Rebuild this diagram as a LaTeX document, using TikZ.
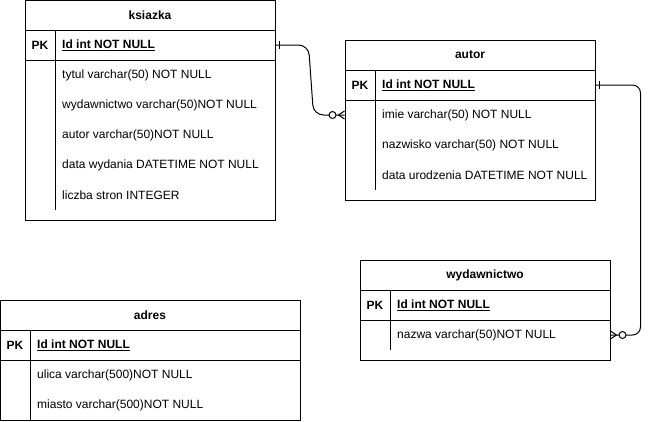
\documentclass[tikz,border=0pt]{standalone}
\usepackage{fontspec}
\setmainfont{Liberation Sans}
\tikzstyle{tbl}=[draw,line width=1pt,inner sep=0pt]
\tikzstyle{head}=[draw,line width=1pt,minimum height=30pt,inner sep=0pt,font=\bfseries]
\tikzstyle{pk}=[minimum width=30pt,minimum height=30pt,inner sep=0pt,font=\bfseries]
\tikzstyle{field}=[anchor=west,minimum height=30pt,inner sep=0pt]
\tikzstyle{key}=[field,font=\bfseries]
\tikzstyle{link}=[line width=1pt]
\tikzset{
  one/.pic={\draw[link] (4pt,-4pt) -- (4pt,4pt);},
  zeromany/.pic={
    \draw[link] (-6pt,0pt) -- (0pt,4pt) (-6pt,0pt) -- (0pt,-4pt);
    \draw[link,fill=white] (-12pt,0pt) circle (3.5pt);
  }
}

\begin{document}
\fontsize{12pt}{14pt}\selectfont
\begin{tikzpicture}[x=1pt,y=-1pt]
\fill[white] (0,0) rectangle (650,421);
\useasboundingbox (0,0) rectangle (650,421);

% ksiazka
\node[tbl,minimum width=250pt,minimum height=220pt] at (150,110) (ksiazka) {};
\node[head,minimum width=250pt] at (150,15) (ksiazkaHead) {ksiazka};
\node[pk] at (40,45) (ksiazkaPK) {PK};
\node[key] at (62,45) (ksiazkaId) {\underline{Id int NOT NULL}};
\node[field] at (62,75) (ksiazkaTytul) {tytul varchar(50) NOT NULL};
\node[field] at (62,105) (ksiazkaWyd) {wydawnictwo varchar(50)NOT NULL};
\node[field] at (62,135) (ksiazkaAutor) {autor varchar(50)NOT NULL};
\node[field] at (62,165) (ksiazkaData) {data wydania DATETIME NOT NULL};
\node[field] at (62,195) (ksiazkaLiczba) {liczba stron INTEGER};
\draw[link] (ksiazkaPK.south west) -- (ksiazkaPK.south -| ksiazka.east);
\draw[link] (ksiazkaPK.north east) -- (ksiazkaPK.east |- ksiazkaLiczba.south);

% autor
\node[tbl,minimum width=250pt,minimum height=160pt] at (470,120) (autor) {};
\node[head,minimum width=250pt] at (470,55) (autorHead) {autor};
\node[pk] at (360,85) (autorPK) {PK};
\node[key] at (382,85) (autorId) {\underline{Id int NOT NULL}};
\node[field] at (382,115) (autorImie) {imie varchar(50) NOT NULL};
\node[field] at (382,145) (autorNazwisko) {nazwisko varchar(50) NOT NULL};
\node[field] at (382,175) (autorData) {data urodzenia DATETIME NOT NULL};
\draw[link] (autorPK.south west) -- (autorPK.south -| autor.east);
\draw[link] (autorPK.north east) -- (autorPK.east |- autorData.south);

% wydawnictwo
\node[tbl,minimum width=250pt,minimum height=100pt] at (485,310) (wyd) {};
\node[head,minimum width=250pt] at (485,275) (wydHead) {wydawnictwo};
\node[pk] at (375,305) (wydPK) {PK};
\node[key] at (397,305) (wydId) {\underline{Id int NOT NULL}};
\node[field] at (397,335) (wydNazwa) {nazwa varchar(50)NOT NULL};
\draw[link] (wydPK.south west) -- (wydPK.south -| wyd.east);
\draw[link] (wydPK.north east) -- (wydPK.east |- wydNazwa.south);

% adres
\node[tbl,minimum width=300pt,minimum height=120pt] at (150,360) (adres) {};
\node[head,minimum width=300pt] at (150,315) (adresHead) {adres};
\node[pk] at (15,345) (adresPK) {PK};
\node[key] at (37,345) (adresId) {\underline{Id int NOT NULL}};
\node[field] at (37,375) (adresUlica) {ulica varchar(500)NOT NULL};
\node[field] at (37,405) (adresMiasto) {miasto varchar(500)NOT NULL};
\draw[link] (adresPK.south west) -- (adresPK.south -| adres.east);
\draw[link] (adresPK.north east) -- (adresPK.east |- adresMiasto.south);

% relations
\coordinate (k1) at (ksiazkaId -| ksiazka.east);
\coordinate (a1) at (autorImie -| autor.west);
\coordinate (a2) at (autorId -| autor.east);
\coordinate (w1) at (wydNazwa -| wyd.east);
\draw[link,rounded corners=10pt] (k1) -- ([xshift=33pt]k1) -- ([xshift=-31pt]a1) -- (a1);
\draw[link,rounded corners=8pt] (a2) -- ([xshift=45pt]a2) |- (w1);
\pic at (k1) {one};
\pic at (a1) {zeromany};
\pic at (a2) {one};
\pic[rotate=180] at (w1) {zeromany};
\end{tikzpicture}
\end{document}
